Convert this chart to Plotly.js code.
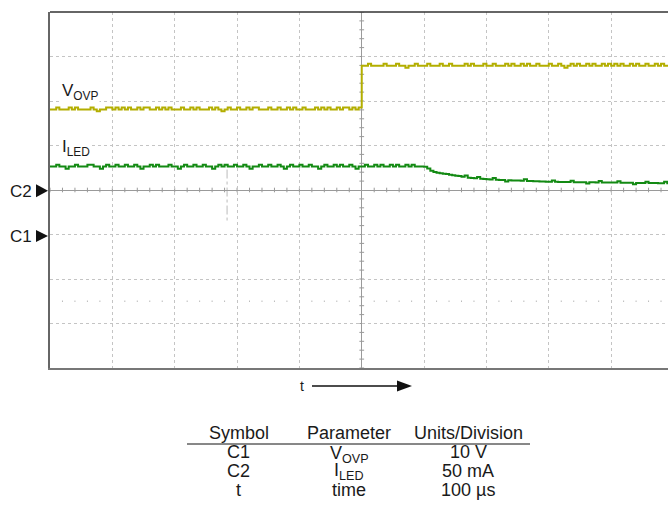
<!DOCTYPE html>
<html>
<head>
<meta charset="utf-8">
<script src="https://cdn.plot.ly/plotly-3.0.1.min.js"></script>
<style>html,body{margin:0;padding:0;background:#fff;}#chart{width:668px;height:508px;}</style>
</head>
<body>
<div id="chart"></div>
<script>
// ---- data ----
const T0 = -500;          // µs, first sample
const DT = 5;             // µs, sample spacing
// V_OVP (V), 200 samples from -500 µs to 495 µs
const vovp = [
  28.1,28.1,28.55,28.1,28.1,28.1,28.55,28.1,28.55,28.1,28.1,28.1,28.1,28.55,28.1,27.7,28.1,28.1,28.55,28.55,
  28.1,28.55,28.1,28.55,28.1,28.55,28.1,28.1,28.55,28.1,28.55,28.55,28.1,28.1,28.55,28.1,28.55,28.1,28.55,28.1,
  28.1,28.1,28.55,28.1,28.1,28.55,28.1,28.55,28.1,28.1,28.1,28.55,28.1,28.55,28.1,27.7,28.1,28.55,28.1,28.1,
  28.55,28.1,28.1,28.55,28.1,28.55,28.55,28.1,28.1,28.1,28.55,28.1,28.1,28.55,28.1,28.1,28.55,28.1,28.55,28.1,
  28.1,28.55,28.1,28.1,28.1,28.55,28.1,28.55,28.1,28.55,28.1,28.1,28.55,28.1,28.55,28.55,28.1,28.55,28.1,28.55,
  37.9,37.9,38.35,37.9,37.9,37.9,37.9,38.35,37.9,37.9,37.9,38.35,37.9,37.9,37.5,37.9,37.9,38.35,37.9,37.9,
  37.9,38.35,37.9,37.9,37.9,38.35,37.9,37.9,38.35,37.9,37.9,37.9,37.9,38.35,37.9,38.35,37.9,37.9,37.9,38.35,
  37.9,37.9,38.35,37.9,37.9,37.9,38.35,37.9,38.35,37.9,37.9,38.35,37.9,38.35,37.9,37.9,38.35,37.9,37.9,37.9,
  38.35,37.9,37.9,38.35,37.9,37.5,37.9,38.35,37.9,38.35,37.9,37.9,38.35,37.9,38.35,37.9,37.9,38.35,37.9,38.35,
  37.9,38.35,37.9,38.35,37.9,37.9,38.35,37.9,38.35,37.9,37.9,38.35,37.9,37.9,38.35,37.9,38.35,37.9,37.9,38.35
];
// I_LED (mA), 200 samples from -500 µs to 495 µs
const iled = [
  26.4,26.4,28.4,26.4,26.4,24.0,26.4,26.4,28.4,26.4,26.4,26.4,28.4,28.4,26.4,26.4,24.0,26.4,28.4,26.4,
  26.4,28.4,26.4,26.4,28.4,26.4,26.4,28.4,26.4,24.0,26.4,26.4,28.4,26.4,28.4,26.4,26.4,26.4,28.4,26.4,
  26.4,24.0,26.4,28.4,26.4,26.4,28.4,26.4,26.4,28.4,26.4,26.4,24.0,26.4,28.4,26.4,28.4,26.4,26.4,28.4,
  26.4,26.4,28.4,26.4,24.0,26.4,26.4,28.4,26.4,26.4,28.4,26.4,26.4,28.4,26.4,24.0,26.4,28.4,26.4,26.4,
  28.4,26.4,26.4,28.4,26.4,26.4,24.0,26.4,28.4,26.4,26.4,28.4,26.4,28.4,26.4,26.4,28.4,26.4,24.0,26.4,
  26.4,28.4,26.4,26.4,28.4,26.4,28.4,26.4,26.4,28.4,26.4,28.4,26.4,26.4,28.4,26.4,28.4,26.4,26.4,26.4,
  26.0,24.2,21.7,20.3,19.5,18.9,18.3,17.9,17.2,16.6,16.0,15.6,14.8,16.2,13.9,13.6,13.2,14.6,12.6,12.4,
  12.2,11.9,13.4,11.4,11.2,11.1,9.6,10.9,10.8,10.7,10.6,10.4,12.0,10.2,10.0,9.9,9.8,9.6,9.5,9.4,
  9.3,10.8,9.2,9.1,9.0,9.0,8.9,10.4,8.8,8.8,8.7,8.7,7.2,8.6,8.6,8.5,10.0,8.5,8.4,8.4,
  8.3,8.3,9.8,8.2,8.2,8.1,8.1,6.6,8.0,8.0,7.9,9.4,7.9,7.8,7.8,7.7,7.7,9.2,7.6,7.5
];
// scope settings
const T_RANGE = [-500, 491.2];  // µs (right edge is cut)
const I_RANGE = [-200, 200];    // mA, 50 mA/div, C2 at centre
const V_RANGE = [-30, 50];      // V, 10 V/div, C1 one div below centre
// table
const tableHeader = ["Symbol", "Parameter", "Units/Division"];
const tableSymbols = ["C1", "C2", "t"];
const tableParams = ["V<sub>OVP</sub>", "I<sub>LED</sub>", "time"];
const tableUnits = ["10 V", "50 mA", "100 µs"];

// ---- layout helpers (pixel -> paper) ----
const L = 50, R = 668, TOP = 12, BOT = 368;
const PX = x => (x - L) / (R - L);
const PY = y => (BOT - y) / (BOT - TOP);
const FONT = "Liberation Sans, Arial, sans-serif";

const traces = [
  {x0: T0, dx: DT, y: iled, type: "scatter", mode: "lines", line: {color: "#138a13", width: 2, shape: "hv"}, yaxis: "y", hoverinfo: "skip"},
  {x0: T0, dx: DT, y: vovp, type: "scatter", mode: "lines", line: {color: "#b3ae00", width: 2, shape: "hv"}, yaxis: "y2", hoverinfo: "skip"}
];

const shapes = [];
// top border
shapes.push({type: "line", xref: "paper", yref: "paper", x0: 0, x1: 1, y0: 1, y1: 1, line: {color: "#333", width: 1.5}});
// centre-axis minor ticks (horizontal axis)
for (let k = -25; k <= 25; k++) {
  if (k === 0) continue;
  shapes.push({type: "line", xref: "x", yref: "y", x0: k * 20, x1: k * 20, y0: -2.6, y1: 2.6, line: {color: "#999", width: 1}, layer: "below"});
}
// centre-axis minor ticks (vertical axis)
for (let m = -20; m <= 20; m++) {
  if (m === 0) continue;
  shapes.push({type: "line", xref: "x", yref: "y", x0: -3.8, x1: 3.8, y0: m * 10, y1: m * 10, line: {color: "#999", width: 1}, layer: "below"});
}
// dotted marker row
for (let k = -24; k <= 24; k++) {
  if (k % 5 === 0) continue;
  shapes.push({type: "line", xref: "x", yref: "y", x0: k * 20 - 0.8, x1: k * 20 + 0.8, y0: -125, y1: -125, line: {color: "#bbb", width: 1.5}, layer: "below"});
}
// faint dash-dot cursor
shapes.push({type: "line", xref: "x", yref: "y", x0: -216, x1: -216, y0: 23, y1: -37, line: {color: "#bbb", width: 1, dash: "dashdot"}, layer: "below"});
// channel markers
function tri(x0, yc, w, h) {
  return `M ${PX(x0)} ${PY(yc - h / 2)} L ${PX(x0)} ${PY(yc + h / 2)} L ${PX(x0 + w)} ${PY(yc)} Z`;
}
shapes.push({type: "path", xref: "paper", yref: "paper", path: tri(36, 190.7, 12, 13), fillcolor: "#111", line: {width: 0}});
shapes.push({type: "path", xref: "paper", yref: "paper", path: tri(36, 236, 12, 12), fillcolor: "#111", line: {width: 0}});
// time arrow
shapes.push({type: "line", xref: "paper", yref: "paper", x0: PX(312), x1: PX(398), y0: PY(386), y1: PY(386), line: {color: "#111", width: 1.3}});
shapes.push({type: "path", xref: "paper", yref: "paper", path: tri(397, 386, 15, 11), fillcolor: "#111", line: {width: 0}});
// table rule
shapes.push({type: "line", xref: "paper", yref: "paper", x0: PX(187), x1: PX(530), y0: PY(444), y1: PY(444), line: {color: "#111", width: 1}});

const ann = [];
function txt(text, x, y, size, xanchor, extra) {
  ann.push(Object.assign({text: text, xref: "paper", yref: "paper", x: PX(x), y: PY(y), xanchor: xanchor || "center", yanchor: "middle", showarrow: false, font: {family: FONT, size: size, color: "#1a1a1a"}}, extra || {}));
}
txt("V<sub>OVP</sub>", 61, 92, 17, "left", {bgcolor: "#fff", borderpad: 0});
txt("I<sub>LED</sub>", 61, 148, 17, "left", {bgcolor: "#fff", borderpad: 0});
txt("C2", 33.5, 191, 17, "right");
txt("C1", 33.5, 236, 17, "right");
txt("t", 301.5, 386, 14, "center");
const colX = [239, 349, 468];
tableHeader.forEach((h, i) => txt(h, colX[i], 433, 18, "center"));
const rowY = [452, 471, 490];
const paramShift = [2, 0, 0];
for (let r = 0; r < 3; r++) {
  txt(tableSymbols[r], colX[0], rowY[r], 18, "center");
  txt(tableParams[r], colX[1], rowY[r] + paramShift[r], 18, "center");
  txt(tableUnits[r], colX[2], rowY[r], 18, "center");
}

const layout = {
  width: 668, height: 508,
  margin: {l: L, r: 668 - R, t: TOP, b: 508 - BOT, pad: 0},
  paper_bgcolor: "#fff", plot_bgcolor: "#fff",
  showlegend: false,
  font: {family: FONT},
  xaxis: {range: T_RANGE, dtick: 100, tick0: 0, showticklabels: false, ticks: "",
          showgrid: true, gridcolor: "#c4c4c4", griddash: "dot", gridwidth: 1,
          zeroline: true, zerolinecolor: "#9a9a9a", zerolinewidth: 1,
          showline: true, linecolor: "#777", linewidth: 2, fixedrange: true},
  yaxis: {range: I_RANGE, dtick: 50, tick0: 0, showticklabels: false, ticks: "",
          showgrid: true, gridcolor: "#c4c4c4", griddash: "dot", gridwidth: 1,
          zeroline: true, zerolinecolor: "#9a9a9a", zerolinewidth: 1,
          showline: true, linecolor: "#666", linewidth: 2, fixedrange: true},
  yaxis2: {range: V_RANGE, overlaying: "y", visible: false, showgrid: false, zeroline: false, fixedrange: true},
  shapes: shapes,
  annotations: ann
};

Plotly.newPlot("chart", traces, layout, {staticPlot: true, displayModeBar: false});
</script>
</body>
</html>
